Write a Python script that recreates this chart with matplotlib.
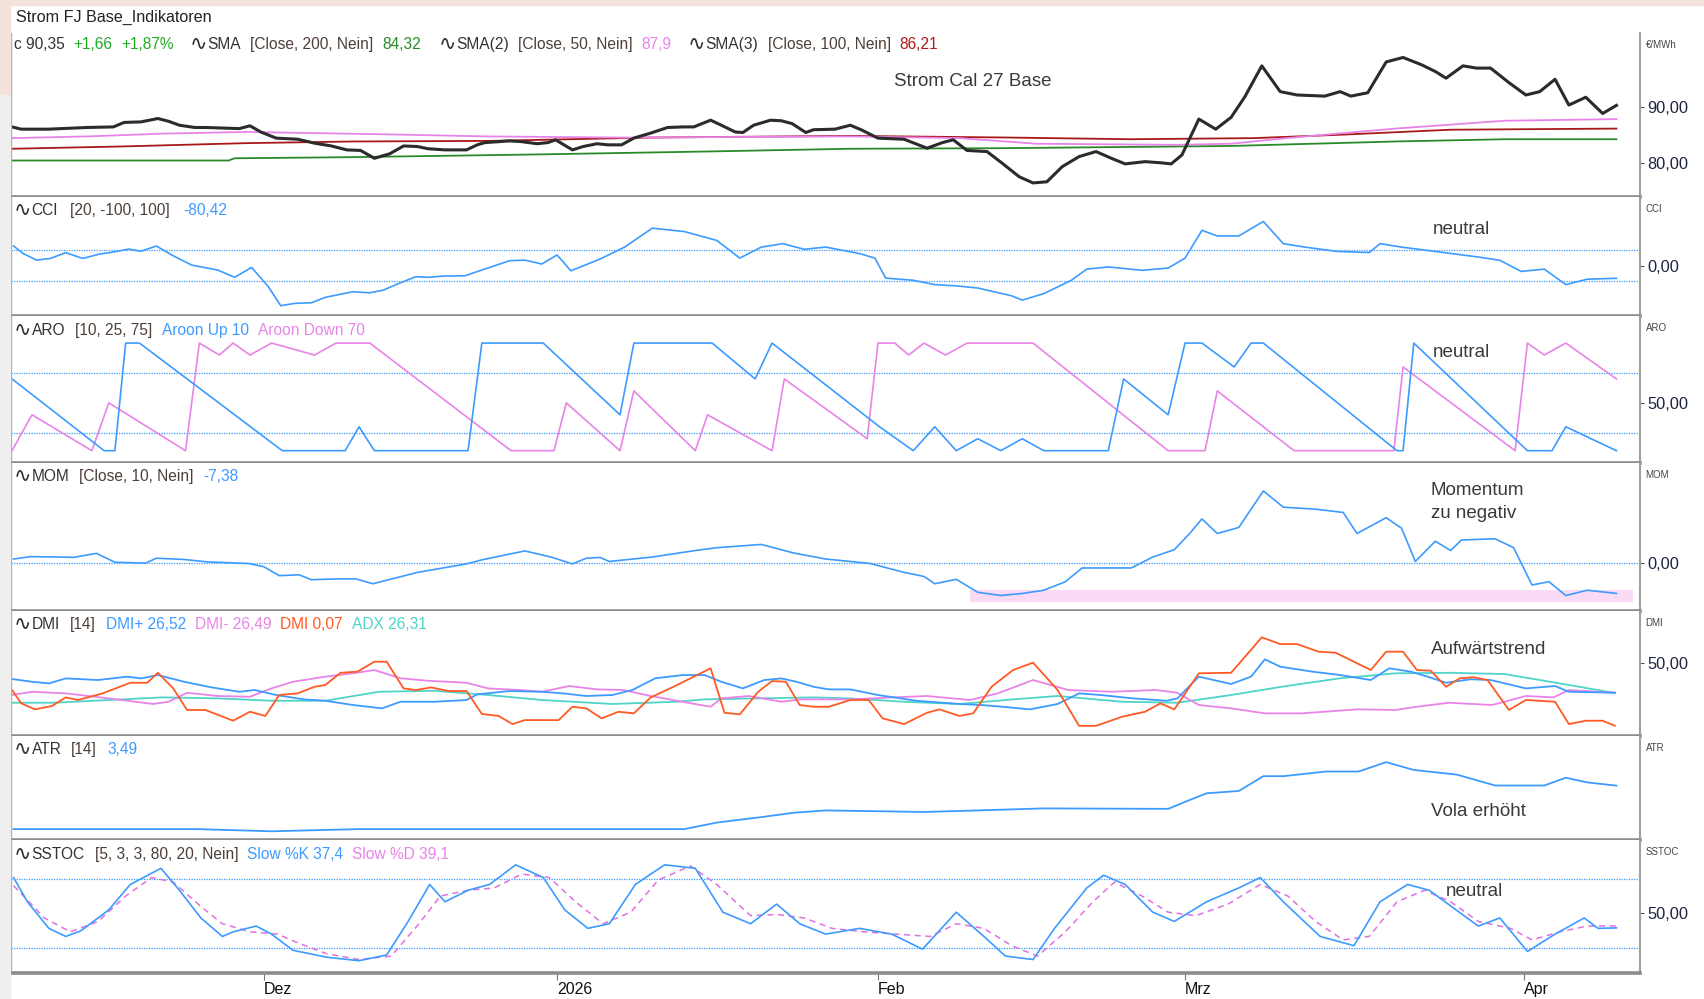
import matplotlib.pyplot as plt
from matplotlib.patches import Rectangle

W, H = 1704, 999
plt.rcParams['font.family'] = ['Liberation Sans', 'DejaVu Sans']

# -----------------------------------------------------------#
# Data (x = trading day index)
# -----------------------------------------------------------#
x_ticks = [16.4, 35.5, 56.4, 76.4, 98.5]
x_labels = ['Dez', '2026', 'Feb', 'Mrz', 'Apr']

close_d = [0, 0.6, 2.4, 4.9, 6.6, 7.3, 8.4, 9.5, 10.2, 10.9, 11.9, 12.6, 14.8, 15.5, 16.2, 17.2, 18.6, 19.7,
           20.8, 21.8, 22.7, 23.6, 24.6, 25.5, 26.4, 27.1, 28.2, 29.6, 30.3, 30.8, 32.4, 33.1, 34.2, 34.9, 35.4,
           36.5, 37.2, 38.1, 38.8, 39.7, 40.5, 41.6, 42.7, 43.7, 44.4, 45.5, 46.2, 47.1, 47.6, 48.3, 49.4, 50.1,
           50.8, 51.7, 52.2, 53.6, 54.6, 55.3, 56.4, 58.1, 59.6, 60.6, 61.3, 62.2, 63.5, 64.5, 65.6, 66.5, 67.4,
           68.4, 69.5, 70.6, 71.6, 72.5, 73.8, 74.8, 75.5, 76.2, 77.3, 78.4, 79.4, 80.3, 81.4, 82.6, 83.7, 85.5,
           86.5, 87.2, 88.3, 89.5, 90.6, 91.8, 92.7, 93.4, 94.5, 95.4, 96.3, 97.5, 98.6, 99.5, 100.5, 101.4,
           102.5, 103.6, 104.5]
close_v = [86.5, 86.1, 86.1, 86.4, 86.5, 87.3, 87.4, 88.0, 87.5, 86.8, 86.4, 86.4, 86.2, 86.7, 85.6, 84.5, 84.3,
           83.6, 83.1, 82.4, 82.3, 80.9, 81.7, 83.1, 83.0, 82.6, 82.4, 82.4, 83.3, 83.7, 84.0, 83.9, 83.5, 83.7,
           84.2, 82.4, 83.0, 83.5, 83.3, 83.3, 84.5, 85.4, 86.4, 86.5, 86.5, 87.7, 86.8, 85.6, 85.5, 86.8, 87.7,
           87.6, 87.1, 85.5, 86.0, 86.1, 86.8, 86.0, 84.5, 84.3, 82.7, 83.7, 84.2, 82.3, 82.1, 80.0, 77.6, 76.5,
           76.7, 79.4, 81.2, 82.1, 80.9, 79.9, 80.3, 80.1, 79.9, 81.5, 87.9, 86.1, 88.2, 91.9, 97.4, 92.8, 92.2,
           92.0, 92.8, 92.0, 92.6, 98.1, 98.9, 97.6, 96.4, 95.2, 97.4, 97.0, 97.0, 94.4, 92.2, 92.8, 95.0, 90.4,
           91.8, 88.9, 90.35]

sma50_d = [0, 4.9, 9.8, 15.3, 23.9, 31.0, 39.8, 54.6, 61.7, 66.7, 75.9, 79.4, 83.0, 90.1, 97.2, 104.5]
sma50_v = [84.5, 84.8, 85.3, 85.6, 85.2, 84.8, 84.6, 84.8, 84.5, 83.5, 83.3, 83.5, 84.5, 86.2, 87.6, 87.9]
sma100_d = [0, 7.0, 15.2, 22.2, 31.0, 41.6, 54.6, 65.0, 72.8, 80.9, 86.5, 93.7, 104.5]
sma100_v = [82.6, 83.0, 83.6, 83.9, 84.0, 84.6, 84.9, 84.6, 84.3, 84.5, 85.1, 86.0, 86.2]
sma200_d = [0, 14.1, 14.5, 22.1, 34.5, 45.0, 54.6, 64.3, 79.4, 90.1, 97.2, 104.5]
sma200_v = [80.5, 80.5, 80.9, 81.1, 81.6, 82.1, 82.6, 82.7, 83.1, 83.9, 84.3, 84.3]

cci_d = [0.1, 0.7, 1.6, 2.5, 3.5, 4.6, 5.7, 6.7, 7.6, 8.4, 9.4, 10.4, 11.7, 13.4, 14.5, 15.6, 16.7, 17.5, 18.4,
         19.5, 20.4, 22.2, 23.3, 24.2, 25.1, 26.3, 27.1, 28.1, 29.5, 30.6, 32.4, 33.4, 34.5, 35.5, 36.4, 38.3,
         39.9, 41.7, 43.8, 45.9, 47.4, 48.8, 50.2, 51.6, 53.0, 55.2, 56.2, 56.9, 58.7, 60.1, 61.5, 62.9, 65.1,
         65.8, 67.2, 69.0, 70.0, 71.4, 73.6, 75.3, 76.4, 77.5, 78.5, 79.9, 81.5, 82.8, 84.2, 86.3, 88.4, 89.1,
         90.5, 92.7, 95.5, 96.9, 98.3, 99.8, 101.2, 102.6, 104.5]
cci_v = [128, 81, 37, 48, 85, 48, 76, 91, 108, 94, 128, 70, 5, -27, -74, -10, -135, -257, -242, -238, -203, -167,
         -174, -156, -117, -70, -74, -66, -64, -27, 33, 37, 12, 70, -32, 44, 121, 243, 221, 164, 50, 121, 143,
         107, 121, 79, 50, -79, -93, -121, -129, -143, -193, -221, -179, -93, -21, -7, -29, -14, 50, 229, 193,
         193, 286, 143, 121, 93, 86, 143, 121, 93, 57, 36, -36, -21, -121, -86, -80.42]

aup_d = [0, 6, 6.7, 7.4, 8.3, 17.6, 21.7, 22.6, 23.6, 29.7, 30.6, 34.6, 39.6, 40.5, 45.6, 48.4, 49.5, 56.5,
         58.7, 60.1, 61.5, 62.9, 64.4, 65.8, 67.2, 71.4, 72.4, 75.3, 76.4, 77.5, 79.6, 80.7, 81.5, 90.2, 90.6,
         91.3, 98.7, 100.3, 101.2, 104.5]
aup_v = [70, 10, 10, 100, 100, 10, 10, 30, 10, 10, 100, 100, 40, 100, 100, 70, 100, 30, 10, 30, 10, 20, 10, 20,
         10, 10, 70, 40, 100, 100, 80, 100, 100, 10, 10, 100, 10, 10, 30, 10]
adn_d = [0, 1.3, 5.2, 6.3, 11.3, 12.2, 13.5, 14.4, 15.5, 16.9, 19.7, 21.1, 23.3, 32.5, 35.3, 36.1, 39.6, 40.5,
         44.5, 45.3, 49.5, 50.3, 55.7, 56.4, 57.5, 58.4, 59.4, 60.8, 62.2, 66.5, 75.3, 77.7, 78.5, 83.5, 90.0,
         90.6, 97.9, 98.7, 99.8, 101.2, 104.5]
adn_v = [10, 40, 10, 50, 10, 100, 90, 100, 90, 100, 90, 100, 100, 10, 10, 50, 10, 60, 10, 40, 10, 70, 20, 100,
         100, 90, 100, 90, 100, 100, 10, 10, 60, 10, 10, 80, 10, 100, 90, 100, 70]

mom_d = [0.1, 1.2, 3.0, 4.0, 5.5, 6.7, 8.7, 9.4, 11.2, 12.7, 15.4, 16.4, 17.4, 18.7, 19.5, 21.2, 22.4, 23.5,
         26.4, 29.6, 30.6, 33.4, 35.1, 36.5, 37.4, 38.3, 38.9, 41.7, 44.5, 45.9, 48.8, 50.9, 53.0, 55.9, 58.0,
         59.4, 60.1, 61.5, 62.9, 64.4, 65.8, 67.2, 68.6, 69.7, 72.9, 74.3, 75.7, 76.7, 77.5, 78.5, 79.9, 81.5,
         82.8, 84.9, 86.7, 87.6, 89.5, 90.5, 91.4, 92.7, 93.7, 94.4, 96.6, 97.8, 99.0, 100.1, 101.2, 102.6,
         104.5]
mom_v = [1.1, 1.7, 1.6, 1.5, 2.5, 0.3, 0.1, 1.3, 1.0, 0.4, 0.0, -0.8, -3.0, -2.8, -4.0, -3.8, -3.8, -5.0, -2.2,
         -0.1, 0.9, 3.1, 1.6, -0.1, 1.3, 1.5, 0.5, 1.6, 3.2, 3.9, 4.7, 2.6, 1.1, 0.0, -2.1, -3.2, -5.0, -3.9,
         -7.1, -7.9, -7.4, -6.6, -4.5, -1.1, -1.1, 1.6, 3.4, 7.4, 11.0, 7.4, 8.9, 17.9, 13.9, 13.4, 12.6, 7.4,
         11.3, 8.7, 0.5, 5.5, 3.2, 5.8, 6.1, 3.9, -5.3, -4.5, -7.9, -6.6, -7.38]
mom_band_d = [62.4, 105.6]
mom_band_v = [-9.5, -6.5]

dip_d = [0, 1.3, 2.4, 3.5, 5.6, 7.5, 8.4, 9.5, 11.2, 13.0, 14.8, 15.8, 17.2, 19.0, 20.4, 22.2, 24.1, 25.3, 27.5,
         29.6, 30.3, 32.4, 34.5, 35.9, 37.4, 39.1, 40.4, 41.9, 43.7, 45.1, 46.2, 47.6, 49.0, 50.1, 51.1, 52.2,
         53.2, 54.6, 56.4, 58.9, 61.7, 63.1, 64.5, 66.3, 68.1, 69.5, 70.9, 73.0, 75.2, 75.9, 77.3, 79.4, 80.7,
         81.6, 82.6, 84.7, 86.5, 88.5, 89.7, 91.1, 92.2, 93.4, 95.0, 96.3, 98.6, 100.5, 101.4, 104.4]
dip_v = [37.5, 35.3, 34.0, 38.0, 36.7, 39.4, 38.0, 40.7, 35.3, 30.8, 27.3, 28.7, 24.7, 21.2, 20.1, 16.7, 14.0,
         19.3, 19.3, 20.7, 25.2, 27.9, 27.3, 26.0, 23.9, 24.7, 28.7, 38.1, 40.7, 40.7, 35.3, 30.0, 36.7, 38.0,
         35.3, 31.3, 29.2, 29.2, 24.7, 20.1, 17.5, 16.7, 15.3, 13.2, 17.5, 26.0, 24.7, 22.0, 20.1, 22.0, 39.4,
         33.5, 39.4, 53.3, 47.4, 43.4, 40.7, 36.7, 46.1, 43.4, 39.4, 34.5, 37.3, 36.7, 30.0, 31.9, 27.3, 26.52]
dim_d = [0, 1.3, 3.5, 6.3, 9.2, 10.2, 11.4, 13.4, 15.5, 16.9, 18.3, 20.4, 22.2, 23.6, 25.3, 27.1, 29.6, 31.0,
         33.1, 34.5, 36.3, 38.1, 39.8, 41.6, 43.3, 45.5, 46.2, 48.0, 50.1, 51.4, 54.6, 57.4, 59.6, 62.4, 64.2,
         66.5, 68.8, 71.6, 74.5, 75.9, 77.3, 79.4, 81.6, 84.0, 87.6, 90.1, 91.5, 93.6, 96.4, 98.6, 100.4, 101.4,
         104.4]
dim_v = [24.7, 27.3, 26.0, 22.0, 17.5, 19.3, 26.5, 23.9, 23.3, 30.0, 35.3, 39.4, 42.1, 44.7, 38.1, 36.1, 34.5,
         30.0, 28.7, 27.3, 31.9, 29.2, 28.7, 23.9, 20.1, 15.3, 22.0, 23.9, 19.3, 21.2, 21.2, 22.8, 23.9, 20.7,
         26.0, 36.7, 28.7, 27.3, 28.7, 26.5, 16.7, 14.0, 10.0, 10.0, 13.2, 12.7, 15.3, 18.5, 16.7, 23.9, 22.8,
         28.7, 26.49]
dmi_d = [0, 0.6, 1.5, 2.6, 3.5, 4.3, 5.9, 7.7, 8.8, 9.5, 10.5, 11.4, 12.6, 14.4, 15.5, 16.5, 17.4, 18.6, 19.7,
         20.4, 21.4, 22.5, 23.6, 24.4, 25.5, 26.3, 27.3, 28.4, 29.6, 30.6, 31.7, 32.6, 33.4, 35.6, 36.5, 37.4,
         38.4, 39.5, 40.5, 41.6, 43.0, 45.5, 46.4, 47.4, 48.6, 49.5, 50.4, 51.3, 52.2, 53.2, 54.6, 55.8, 56.7,
         58.1, 59.6, 60.4, 61.7, 62.6, 63.8, 65.2, 66.5, 68.1, 69.5, 70.6, 72.3, 73.8, 74.8, 75.7, 77.3, 79.4,
         81.4, 82.6, 83.7, 85.1, 86.2, 88.5, 89.5, 90.6, 91.5, 92.4, 93.4, 94.3, 95.2, 96.1, 97.5, 98.6, 100.5,
         101.4, 102.5, 103.6, 104.4]
dmi_v = [28.7, 18.0, 13.2, 15.9, 22.8, 20.7, 26.0, 34.5, 34.5, 42.5, 30.0, 12.7, 12.7, 4.1, 11.3, 7.9, 24.7,
         26.0, 31.3, 32.7, 42.5, 43.4, 51.4, 51.4, 30.0, 28.7, 30.8, 27.9, 27.9, 9.5, 7.9, 1.4, 4.6, 4.6, 15.3,
         14.0, 6.0, 11.3, 10.0, 22.8, 30.8, 46.1, 10.5, 9.2, 27.3, 35.9, 35.3, 16.7, 15.3, 15.3, 20.7, 20.7, 6.0,
         1.4, 10.5, 13.2, 7.9, 10.0, 31.3, 44.7, 50.6, 28.7, 0.0, 0.0, 7.3, 11.3, 18.0, 13.2, 42.1, 42.5, 70.9,
         65.5, 65.5, 59.4, 58.6, 44.7, 59.4, 59.4, 44.7, 44.2, 31.3, 38.1, 38.9, 36.7, 12.7, 20.7, 19.3, 1.4,
         4.1, 4.1, 0.07]
adx_d = [0, 2.75, 6.3, 9.8, 13.4, 16.9, 20.4, 23.9, 27.5, 31.0, 34.5, 39.1, 43.3, 45.1, 48.6, 52.2, 54.6, 58.1,
         61.7, 65.2, 68.1, 72.3, 75.9, 79.4, 83.0, 86.5, 90.1, 93.7, 97.2, 100.8, 104.4]
adx_v = [18.5, 18.5, 20.7, 22.8, 22.0, 20.1, 20.1, 27.3, 28.1, 24.7, 20.7, 17.5, 19.3, 21.2, 22.0, 22.8, 22.0,
         19.3, 17.5, 21.2, 23.9, 19.3, 18.5, 24.7, 31.9, 38.1, 42.1, 42.5, 41.5, 34.0, 26.31]

atr_d = [0.1, 12.0, 16.9, 22.6, 43.8, 45.9, 48.8, 50.9, 53.0, 59.4, 62.9, 67.2, 75.3, 76.4, 77.8, 79.9, 81.5,
         82.8, 85.6, 87.7, 89.5, 91.3, 94.1, 96.6, 99.8, 101.2, 102.6, 104.5]
atr_v = [0.7, 0.7, 0.56, 0.7, 0.7, 1.12, 1.47, 1.75, 1.9, 1.8, 1.9, 2.03, 2.0, 2.45, 3.0, 3.15, 4.1, 4.1, 4.4,
         4.4, 5.0, 4.5, 4.2, 3.5, 3.5, 4.0, 3.7, 3.49]

sk_d = [0.1, 1.0, 2.4, 3.5, 4.5, 6.3, 7.7, 9.7, 10.9, 12.3, 13.7, 14.4, 15.9, 16.9, 18.3, 20.5, 22.6, 24.4, 25.8,
        27.2, 28.2, 29.7, 31.1, 32.8, 34.6, 36.0, 37.5, 38.9, 40.6, 42.5, 44.5, 46.3, 48.1, 49.8, 51.3, 53.0,
        55.2, 57.3, 59.3, 61.5, 63.3, 64.7, 66.5, 67.9, 70.0, 71.1, 72.5, 74.3, 75.7, 77.8, 79.9, 81.3, 82.8,
        85.2, 87.4, 89.1, 90.9, 92.3, 95.5, 96.9, 98.7, 100.5, 102.4, 103.3, 104.5]
sk_v = [81, 60, 37, 30, 35, 53, 75, 89, 70, 46, 30, 34, 39, 32, 18, 12, 9, 14, 43, 75, 60, 70, 75, 92, 81, 53,
        37, 41, 75, 92, 89, 51, 41, 58, 41, 32, 37, 32, 19, 51, 30, 13, 10, 37, 72, 83, 75, 51, 43, 60, 72, 81,
        60, 30, 22, 60, 75, 70, 39, 46, 17, 32, 46, 37, 37.4]
sd_d = [0.1, 2.1, 3.8, 5.6, 7.4, 9.1, 10.5, 12.3, 13.7, 15.5, 17.3, 18.7, 20.5, 22.6, 24.7, 26.5, 27.9, 29.7,
        31.4, 33.2, 35.0, 36.7, 38.5, 40.3, 42.1, 44.2, 45.9, 48.1, 49.8, 51.6, 53.4, 55.5, 57.6, 59.8, 61.5,
        63.3, 65.1, 66.8, 68.6, 70.4, 71.8, 73.6, 75.3, 77.1, 79.2, 81.3, 83.1, 84.9, 86.7, 88.4, 90.2, 92.0,
        93.7, 95.5, 97.6, 99.0, 100.8, 102.6, 104.5]
sd_v = [74, 46, 34, 43, 65, 81, 77, 56, 41, 34, 32, 24, 15, 10, 13, 41, 65, 70, 72, 84, 81, 60, 41, 51, 79, 91,
        75, 48, 49, 46, 37, 34, 32, 30, 41, 37, 22, 13, 34, 60, 77, 65, 51, 48, 58, 75, 65, 43, 27, 30, 60, 70,
        60, 43, 37, 27, 34, 39, 39.1]

# -----------------------------------------------------------#
# Styles
# -----------------------------------------------------------#
BLUE = '#3d9bff'
VIOLET = '#e884e8'
ORANGE = '#ff5a24'
TURQ = '#50d4c8'
DARK = '#333333'
BRK = '#4e4038'

fig = plt.figure(figsize=(W / 100, H / 100), dpi=100)
fig.patches.append(Rectangle((0, 1 - 5 / H), 1, 5 / H, transform=fig.transFigure, color='#f3e3db', zorder=0))
fig.patches.append(Rectangle((0, 1 - 95 / H), 10 / W, 95 / H, transform=fig.transFigure, color='#f3e3db', zorder=0))
fig.patches.append(Rectangle((0, 0), 10 / W, 1 - 95 / H, transform=fig.transFigure, color='#efefef', zorder=0))

edges = [32.6, 196.7, 316.4, 463.0, 610.5, 735.7, 840.0, 972.6]
left, right = 10.5, 1639.5
ylims = [(74.04, 103.34), (-326, 446), (-0.3, 122.3), (-11.6, 24.8), (-7.9, 92.4), (0, 6.7), (-1.3, 113.5)]
yticks = [[80, 90], [0], [50], [0], [50], [], [50]]
names = ['€/MWh', 'CCI', 'ARO', 'MOM', 'DMI', 'ATR', 'SSTOC']

axes = []
for i in range(7):
    top, bot = edges[i], edges[i + 1]
    ax = fig.add_axes([left / W, 1 - bot / H, (right - left) / W, (bot - top) / H])
    ax.set_xlim(-0.1, 106.0)
    ax.set_ylim(*ylims[i])
    ax.spines['top'].set_visible(False)
    ax.spines['bottom'].set_color('#8c8c8c')
    ax.spines['bottom'].set_linewidth(2.6)
    ax.spines['left'].set_color('#a8a8a8')
    ax.spines['left'].set_linewidth(1)
    ax.spines['right'].set_color('#a0a0a0')
    ax.spines['right'].set_linewidth(1.5)
    ax.yaxis.tick_right()
    ax.set_yticks(yticks[i])
    ax.set_yticklabels([('%.2f' % t).replace('.', ',') for t in yticks[i]])
    ax.tick_params(axis='y', direction='out', length=3, width=0.8, color='#555555',
                   labelsize=11.8, labelcolor='#1e2440', pad=2.5)
    ax.set_xticks([])
    fig.text((right + 6) / W, 1 - (top + 12) / H, names[i], fontsize=7, color='#444444', va='center')
    axes.append(ax)

ax1, ax2, ax3, ax4, ax5, ax6, ax7 = axes

# price
ax1.plot(sma200_d, sma200_v, color='#2a8a2a', lw=1.3)
ax1.plot(sma100_d, sma100_v, color='#a81818', lw=1.3)
ax1.plot(sma50_d, sma50_v, color=VIOLET, lw=1.3)
ax1.plot(close_d, close_v, color='#2b2b2b', lw=2.2)

# CCI
for lv in (100, -100):
    ax2.axhline(lv, color=BLUE, lw=0.9, ls=(0, (1, 1)))
ax2.plot(cci_d, cci_v, color=BLUE, lw=1.2)

# Aroon
for lv in (25, 75):
    ax3.axhline(lv, color=BLUE, lw=0.9, ls=(0, (1, 1)))
ax3.plot(adn_d, adn_v, color=VIOLET, lw=1.2)
ax3.plot(aup_d, aup_v, color=BLUE, lw=1.2)

# Momentum
ax4.fill_between(mom_band_d, mom_band_v[0], mom_band_v[1], color='#fbdaf6', lw=0, zorder=0)
ax4.axhline(0, color=BLUE, lw=0.9, ls=(0, (1, 1)))
ax4.plot(mom_d, mom_v, color=BLUE, lw=1.2)

# DMI
ax5.plot(adx_d, adx_v, color=TURQ, lw=1.3)
ax5.plot(dim_d, dim_v, color=VIOLET, lw=1.3)
ax5.plot(dip_d, dip_v, color=BLUE, lw=1.3)
ax5.plot(dmi_d, dmi_v, color=ORANGE, lw=1.3)

# ATR
ax6.plot(atr_d, atr_v, color=BLUE, lw=1.3)

# Slow stochastic
for lv in (20, 80):
    ax7.axhline(lv, color=BLUE, lw=0.9, ls=(0, (1, 1)))
ax7.plot(sd_d, sd_v, color='#e070e0', lw=1.1, ls=(0, (4, 3)))
ax7.plot(sk_d, sk_v, color=BLUE, lw=1.2)

ax7.set_xticks(x_ticks)
ax7.set_xticklabels(x_labels)
ax7.tick_params(axis='x', direction='out', length=5, width=0.8, color='#777777', labelsize=11.5,
                labelcolor='#111111', pad=2)
for lbl in ax7.get_xticklabels():
    lbl.set_ha('left')

# -----------------------------------------------------------#
# Texts
# -----------------------------------------------------------#
renderer = fig.canvas.get_renderer()
WAVE = '∿'


def header(y_px, pieces, size=11.2):
    x = 14.0
    for txt, col, gap in pieces:
        fs = 15 if txt == WAVE else size
        t = fig.text(x / W, 1 - y_px / H, txt, color=col, fontsize=fs, va='center', ha='left')
        x += t.get_window_extent(renderer).width + gap


fig.text(16 / W, 1 - 17.5 / H, 'Strom FJ Base_Indikatoren', fontsize=11.6, color='#222222', va='center')

header(44.5, [('c 90,35', DARK, 9), ('+1,66', '#22aa22', 9), ('+1,87%', '#22aa22', 16),
              (WAVE, DARK, 0), ('SMA', DARK, 9), ('[Close, 200, Nein]', BRK, 9), ('84,32', '#2a8a2a', 17),
              (WAVE, DARK, 0), ('SMA(2)', DARK, 9), ('[Close, 50, Nein]', BRK, 9), ('87,9', VIOLET, 17),
              (WAVE, DARK, 0), ('SMA(3)', DARK, 9), ('[Close, 100, Nein]', BRK, 9), ('86,21', '#b01c1c', 0)])
header(210.8, [(WAVE, DARK, 0), ('CCI', DARK, 12), ('[20, -100, 100]', BRK, 13), ('-80,42', BLUE, 0)])
header(330.4, [(WAVE, DARK, 0), ('ARO', DARK, 10), ('[10, 25, 75]', BRK, 10), ('Aroon Up 10', BLUE, 9),
               ('Aroon Down 70', VIOLET, 0)])
header(476.9, [(WAVE, DARK, 0), ('MOM', DARK, 10), ('[Close, 10, Nein]', BRK, 10), ('-7,38', BLUE, 0)])
header(624.9, [(WAVE, DARK, 0), ('DMI', DARK, 10), ('[14]', BRK, 10), ('DMI+ 26,52', BLUE, 9),
               ('DMI- 26,49', VIOLET, 9), ('DMI 0,07', ORANGE, 9), ('ADX 26,31', TURQ, 0)])
header(749.8, [(WAVE, DARK, 0), ('ATR', DARK, 10), ('[14]', BRK, 10), ('3,49', BLUE, 0)])
header(854.1, [(WAVE, DARK, 0), ('SSTOC', DARK, 10), ('[5, 3, 3, 80, 20, Nein]', BRK, 9),
               ('Slow %K 37,4', BLUE, 9), ('Slow %D 39,1', VIOLET, 0)])

NOTE = '#3a3a3a'
fig.text(973 / W, 1 - 81.5 / H, 'Strom Cal 27 Base', fontsize=13.5, color=NOTE, ha='center', va='center')
fig.text(1461.6 / W, 1 - 229 / H, 'neutral', fontsize=13.5, color=NOTE, ha='center', va='center')
fig.text(1461.6 / W, 1 - 353 / H, 'neutral', fontsize=13.5, color=NOTE, ha='center', va='center')
fig.text(1431 / W, 1 - 490 / H, 'Momentum', fontsize=13.5, color=NOTE, ha='left', va='center')
fig.text(1431 / W, 1 - 514 / H, 'zu negativ', fontsize=13.5, color=NOTE, ha='left', va='center')
fig.text(1431 / W, 1 - 649 / H, 'Aufwärtstrend', fontsize=13.5, color=NOTE, ha='left', va='center')
fig.text(1431 / W, 1 - 811 / H, 'Vola erhöht', fontsize=13.5, color=NOTE, ha='left', va='center')
fig.text(1446 / W, 1 - 892 / H, 'neutral', fontsize=13.5, color=NOTE, ha='left', va='center')

fig.savefig('out.png', dpi=100)
